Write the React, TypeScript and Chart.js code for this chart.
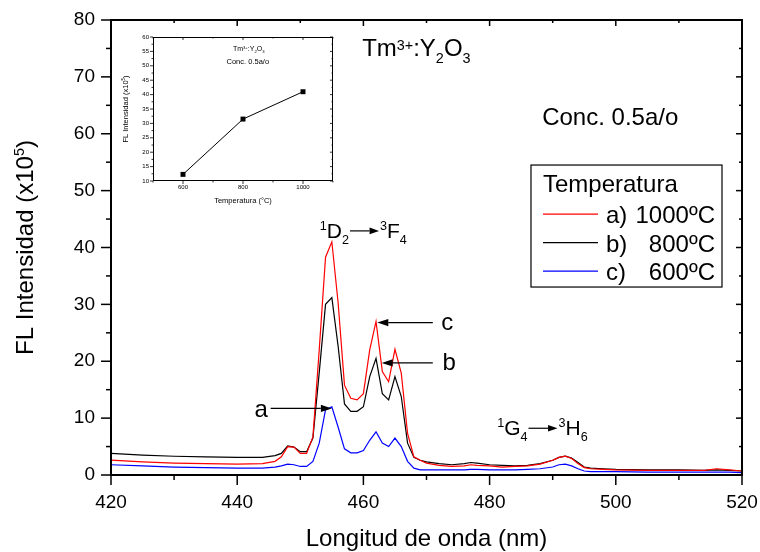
import React, { useEffect, useRef } from 'react';
import { Chart, registerables } from 'chart.js';

Chart.register(...registerables);

// ---------- data ----------
const wavelengths = [
  420, 425, 430, 435, 440, 444, 446, 447,
  448, 449, 450, 451, 452, 453, 454, 455, 456, 457, 458, 459, 460, 461, 462, 463, 464, 465, 466, 467, 468, 469, 470,
  472, 474, 476, 477, 478, 480, 482, 484, 486, 488, 490, 491, 492, 493, 494, 495, 496, 498, 500, 505, 510, 514, 516, 518, 520,
];
const intensity1000 = [
  2.6, 2.3, 2.1, 2.0, 1.9, 2.0, 2.4, 3.2,
  5.0, 4.9, 3.8, 3.8, 6.7, 22.0, 38.3, 41.0, 30.2, 15.8, 13.5, 13.2, 14.3, 22.0, 27.0, 18.2, 16.4, 22.1, 17.9, 7.3, 3.2, 2.6, 2.1,
  1.7, 1.5, 1.6, 1.8, 1.7, 1.6, 1.4, 1.5, 1.6, 1.9, 2.6, 3.1, 3.3, 2.9, 2.0, 1.3, 1.1, 1.0, 0.9, 0.8, 0.8, 0.8, 1.1, 0.9, 0.7,
];
const intensity800 = [
  3.8, 3.5, 3.3, 3.2, 3.1, 3.1, 3.4, 3.8,
  5.1, 4.9, 4.1, 4.1, 6.5, 18.0, 30.0, 31.2, 22.6, 12.5, 11.2, 11.2, 12.0, 17.3, 20.5, 14.3, 13.2, 17.3, 13.8, 5.6, 3.1, 2.6, 2.3,
  2.0, 1.8, 2.0, 2.2, 2.1, 1.8, 1.7, 1.6, 1.7, 2.0, 2.6, 3.1, 3.3, 3.0, 2.2, 1.4, 1.2, 1.1, 1.0, 0.9, 0.9, 0.8, 0.9, 0.8, 0.7,
];
const intensity600 = [
  1.8, 1.6, 1.4, 1.3, 1.2, 1.2, 1.4, 1.6,
  1.9, 1.8, 1.5, 1.5, 2.4, 5.6, 11.5, 12.0, 8.4, 4.6, 3.9, 3.9, 4.3, 6.1, 7.6, 5.6, 5.0, 6.5, 5.0, 2.4, 1.2, 0.9, 0.9,
  0.9, 0.9, 0.9, 1.0, 1.0, 0.9, 0.9, 0.9, 1.0, 1.1, 1.4, 1.8, 1.9, 1.6, 1.1, 0.7, 0.6, 0.6, 0.6, 0.5, 0.5, 0.5, 0.5, 0.5, 0.4,
];
const seriesColors = ['#ff0000', '#000000', '#0000ff'];
const legendTitle = 'Temperatura';
const legendLetters = ['a)', 'b)', 'c)'];
const legendTemps = ['1000ºC', '800ºC', '600ºC'];

const insetTemps = [600, 800, 1000];
const insetPeaks = [12.3, 31.5, 41.0];

const FONT = '"Liberation Sans", Arial, Helvetica, sans-serif';

// ---------- helpers ----------
type Seg = { t?: string; sup?: boolean; sub?: boolean; arrow?: number; dy?: number };

function segFont(size: number, s: Seg) {
  return `${s.sup || s.sub ? size * 0.6 : size}px ${FONT}`;
}
function richWidth(ctx: CanvasRenderingContext2D, segs: Seg[], size: number) {
  let w = 0;
  for (const s of segs) {
    if (s.arrow) { w += s.arrow; continue; }
    ctx.font = segFont(size, s);
    w += ctx.measureText(s.t || '').width;
  }
  return w;
}
function drawArrow(ctx: CanvasRenderingContext2D, x1: number, y1: number, x2: number, y2: number, headLen: number, headHalf: number, lw = 1.2) {
  const ang = Math.atan2(y2 - y1, x2 - x1);
  const bx = x2 - headLen * Math.cos(ang);
  const by = y2 - headLen * Math.sin(ang);
  ctx.beginPath();
  ctx.moveTo(x1, y1);
  ctx.lineTo(bx, by);
  ctx.lineWidth = lw;
  ctx.stroke();
  ctx.beginPath();
  ctx.moveTo(x2, y2);
  ctx.lineTo(bx - headHalf * Math.sin(ang), by + headHalf * Math.cos(ang));
  ctx.lineTo(bx + headHalf * Math.sin(ang), by - headHalf * Math.cos(ang));
  ctx.closePath();
  ctx.fill();
}
function drawRich(ctx: CanvasRenderingContext2D, segs: Seg[], x: number, y: number, size: number, align: 'left' | 'center' | 'right' = 'left') {
  const w = richWidth(ctx, segs, size);
  let cx = align === 'center' ? x - w / 2 : align === 'right' ? x - w : x;
  ctx.textAlign = 'left';
  ctx.textBaseline = 'alphabetic';
  for (const s of segs) {
    if (s.arrow) {
      drawArrow(ctx, cx + 1, y - size * 0.33, cx + s.arrow - 1, y - size * 0.33, size * 0.45, size * 0.16);
      cx += s.arrow;
      continue;
    }
    ctx.font = segFont(size, s);
    const dy = s.dy !== undefined ? s.dy * size : s.sup ? -size * 0.38 : s.sub ? size * 0.28 : 0;
    ctx.fillText(s.t || '', cx, y + dy);
    cx += ctx.measureText(s.t || '').width;
  }
}
function line(ctx: CanvasRenderingContext2D, x1: number, y1: number, x2: number, y2: number) {
  ctx.beginPath();
  ctx.moveTo(x1, y1);
  ctx.lineTo(x2, y2);
  ctx.stroke();
}
function fixScale(size: number, vertical: boolean) {
  return (s: any) => {
    if (vertical) s.width = size; else s.height = size;
    s.paddingLeft = 0;
    s.paddingRight = 0;
    s.paddingTop = 0;
    s.paddingBottom = 0;
  };
}

// ---------- main chart decorations ----------
const mainDecor = {
  id: 'mainDecor',
  afterDraw(chart: any) {
    const { ctx, chartArea: ca, scales } = chart;
    const xs = scales.x;
    const ys = scales.y;
    ctx.save();
    ctx.strokeStyle = '#000';
    ctx.fillStyle = '#000';

    // frame
    ctx.lineWidth = 2;
    ctx.strokeRect(ca.left, ca.top, ca.right - ca.left, ca.bottom - ca.top);

    // ticks
    ctx.lineWidth = 1.5;
    for (let v = xs.min; v <= xs.max + 1e-6; v += 10) {
      const px = xs.getPixelForValue(v);
      const major = Math.round(v - xs.min) % 20 === 0;
      line(ctx, px, ca.bottom, px, ca.bottom + (major ? 10 : 5));
      if (v > xs.min && v < xs.max) line(ctx, px, ca.top, px, ca.top + (major ? 6 : 3));
    }
    for (let v = ys.min; v <= ys.max + 1e-6; v += 5) {
      const py = ys.getPixelForValue(v);
      const major = Math.round(v) % 10 === 0;
      line(ctx, ca.left, py, ca.left - (major ? 10 : 5), py);
      if (v > ys.min && v < ys.max) line(ctx, ca.right, py, ca.right - (major ? 6 : 3), py);
    }

    // axis titles
    const cx = (ca.left + ca.right) / 2;
    drawRich(ctx, [{ t: 'Longitud de onda (nm)' }], cx, 546, 24, 'center');
    ctx.save();
    ctx.translate(33, (ca.top + ca.bottom) / 2);
    ctx.rotate(-Math.PI / 2);
    drawRich(ctx, [{ t: 'FL Intensidad (x10' }, { t: '5', sup: true }, { t: ')' }], 0, 0, 24, 'center');
    ctx.restore();

    // texts
    const X = (v: number) => xs.getPixelForValue(v);
    const Y = (v: number) => ys.getPixelForValue(v);
    drawRich(ctx, [{ t: 'Tm' }, { t: '3+', sup: true, dy: -0.26 }, { t: ':Y' }, { t: '2', sub: true }, { t: 'O' }, { t: '3', sub: true }], X(459.8), Y(73.6), 24);
    drawRich(ctx, [{ t: 'Conc. 0.5a/o' }], X(509.9), Y(61.5), 24, 'right');
    drawRich(ctx, [{ t: '1', sup: true }, { t: 'D' }, { t: '2', sub: true }, { arrow: 31 }, { t: '3', sup: true }, { t: 'F' }, { t: '4', sub: true }], X(453.1), Y(41.7), 21);
    drawRich(ctx, [{ t: '1', sup: true }, { t: 'G' }, { t: '4', sub: true }, { arrow: 31 }, { t: '3', sup: true }, { t: 'H' }, { t: '6', sub: true }], X(481.2), Y(7.0), 21);

    // peak labels with arrows
    const label = (txt: string, x: number, y: number) => {
      ctx.font = `24px ${FONT}`;
      ctx.textAlign = 'center';
      ctx.textBaseline = 'middle';
      ctx.fillText(txt, x, y);
    };
    label('a', X(443.8), Y(11.4));
    drawArrow(ctx, X(445.3), Y(11.7), X(455.0), Y(11.7), 11, 3.6);
    label('c', X(473.3), Y(26.7));
    drawArrow(ctx, X(471.0), Y(26.8), X(462.2), Y(26.8), 11, 3.6);
    label('b', X(473.6), Y(19.6));
    drawArrow(ctx, X(471.0), Y(19.7), X(462.9), Y(19.7), 11, 3.6);

    // legend
    const lx = X(486.56);
    const ly = Y(54.5);
    const lw = 191;
    const lh = 122;
    ctx.lineWidth = 1.2;
    ctx.fillStyle = '#fff';
    ctx.fillRect(lx, ly, lw, lh);
    ctx.strokeRect(lx, ly, lw, lh);
    ctx.fillStyle = '#000';
    drawRich(ctx, [{ t: legendTitle }], lx + 12, ly + 27, 24);
    legendLetters.forEach((letter, i) => {
      const base = ly + 58 + i * 28.5;
      ctx.strokeStyle = seriesColors[i];
      ctx.lineWidth = 1.2;
      line(ctx, lx + 12, base - 9, lx + 67, base - 9);
      ctx.fillStyle = '#000';
      drawRich(ctx, [{ t: letter }], lx + 75, base, 24);
      drawRich(ctx, [{ t: legendTemps[i] }], lx + 184, base, 24, 'right');
    });
    ctx.restore();
  },
};

// ---------- inset decorations ----------
const insetDecor = {
  id: 'insetDecor',
  afterDraw(chart: any) {
    const { ctx, chartArea: ca, scales } = chart;
    const xs = scales.x;
    const ys = scales.y;
    ctx.save();
    ctx.strokeStyle = '#000';
    ctx.fillStyle = '#000';
    ctx.lineWidth = 1;
    ctx.strokeRect(ca.left + 0.5, ca.top + 0.5, ca.right - ca.left - 1, ca.bottom - ca.top - 1);
    ctx.lineWidth = 0.8;
    for (let v = xs.min; v <= xs.max + 1e-6; v += 100) {
      const px = xs.getPixelForValue(v);
      const major = insetTemps.includes(v);
      line(ctx, px, ca.bottom, px, ca.bottom + (major ? 3 : 1.5));
      line(ctx, px, ca.top, px, ca.top + (major ? 3 : 1.5));
    }
    for (let v = ys.min; v <= ys.max + 1e-6; v += 2.5) {
      const py = ys.getPixelForValue(v);
      const major = Math.abs(v / 5 - Math.round(v / 5)) < 1e-6;
      line(ctx, ca.left, py, ca.left - (major ? 3 : 1.5), py);
      line(ctx, ca.right, py, ca.right - (major ? 3 : 1.5), py);
    }
    const size = 7.5;
    drawRich(ctx, [{ t: 'Temperatura (°C)' }], (ca.left + ca.right) / 2, ca.bottom + 21.5, size, 'center');
    ctx.save();
    ctx.translate(ca.left - 25.5, (ca.top + ca.bottom) / 2);
    ctx.rotate(-Math.PI / 2);
    drawRich(ctx, [{ t: 'FL Intensidad (x10' }, { t: '5', sup: true }, { t: ')' }], 0, 0, size, 'center');
    ctx.restore();
    const X = (v: number) => xs.getPixelForValue(v);
    const Y = (v: number) => ys.getPixelForValue(v);
    drawRich(ctx, [{ t: 'Tm' }, { t: '3+', sup: true }, { t: ':Y' }, { t: '2', sub: true }, { t: 'O' }, { t: '3', sub: true }], X(819), Y(55.0), 7, 'center');
    drawRich(ctx, [{ t: 'Conc. 0.5a/o' }], X(816), Y(50.5), 7.5, 'center');
    ctx.restore();
  },
};

export default function App() {
  const mainRef = useRef<HTMLCanvasElement>(null);
  const insetRef = useRef<HTMLCanvasElement>(null);

  useEffect(() => {
    const series = [intensity1000, intensity800, intensity600];
    const main = new Chart(mainRef.current as HTMLCanvasElement, {
      type: 'line',
      data: {
        datasets: series.map((vals, i) => ({
          label: legendTemps[i],
          data: wavelengths.map((x, j) => ({ x, y: vals[j] })),
          borderColor: seriesColors[i],
          backgroundColor: seriesColors[i],
          borderWidth: 1.2,
          pointRadius: 0,
          tension: 0,
        })),
      },
      options: {
        animation: false,
        responsive: false,
        devicePixelRatio: 1,
        layout: { padding: { top: 20, right: 18, left: 0, bottom: 0 } },
        plugins: { legend: { display: false }, tooltip: { enabled: false } },
        scales: {
          x: {
            type: 'linear',
            min: 420,
            max: 520,
            ticks: { stepSize: 20, font: { size: 19, family: FONT }, color: '#000', padding: 16, maxRotation: 0, autoSkip: false, callback: (v: any) => String(v) },
            grid: { display: false, drawTicks: false },
            border: { display: false },
            afterFit: fixScale(77, false),
          },
          y: {
            type: 'linear',
            min: 0,
            max: 80,
            ticks: { stepSize: 10, font: { size: 19, family: FONT }, color: '#000', padding: 16, callback: (v: any) => String(v) },
            grid: { display: false, drawTicks: false },
            border: { display: false },
            afterFit: fixScale(111, true),
          },
        },
      } as any,
      plugins: [mainDecor],
    });

    const inset = new Chart(insetRef.current as HTMLCanvasElement, {
      type: 'line',
      data: {
        datasets: [
          {
            data: insetTemps.map((x, i) => ({ x, y: insetPeaks[i] })),
            borderColor: '#000',
            backgroundColor: '#000',
            borderWidth: 1,
            pointStyle: 'rect',
            pointRadius: 3.5,
            pointBorderWidth: 0,
            pointBackgroundColor: '#000',
            tension: 0,
          },
        ],
      },
      options: {
        animation: false,
        responsive: false,
        devicePixelRatio: 1,
        layout: { padding: { top: 15, right: 11, left: 0, bottom: 0 } },
        plugins: { legend: { display: false }, tooltip: { enabled: false } },
        scales: {
          x: {
            type: 'linear',
            min: 500,
            max: 1100,
            afterBuildTicks: (s: any) => { s.ticks = insetTemps.map((v) => ({ value: v })); },
            ticks: { font: { size: 6, family: FONT }, color: '#000', padding: 3, maxRotation: 0, autoSkip: false, callback: (v: any) => String(v) },
            grid: { display: false, drawTicks: false },
            border: { display: false },
            afterFit: fixScale(31, false),
          },
          y: {
            type: 'linear',
            min: 10,
            max: 60,
            ticks: { stepSize: 5, font: { size: 6, family: FONT }, color: '#000', padding: 4, callback: (v: any) => String(v) },
            grid: { display: false, drawTicks: false },
            border: { display: false },
            afterFit: fixScale(41, true),
          },
        },
      } as any,
      plugins: [insetDecor],
    });

    return () => {
      main.destroy();
      inset.destroy();
    };
  }, []);

  return (
    <div style={{ position: 'fixed', left: 0, top: 0, width: 760, height: 552, background: '#fff' }}>
      <canvas ref={mainRef} width={760} height={552} style={{ position: 'absolute', left: 0, top: 0, width: 760, height: 552 }} />
      <canvas ref={insetRef} width={232} height={190} style={{ position: 'absolute', left: 112, top: 22, width: 232, height: 190 }} />
    </div>
  );
}
